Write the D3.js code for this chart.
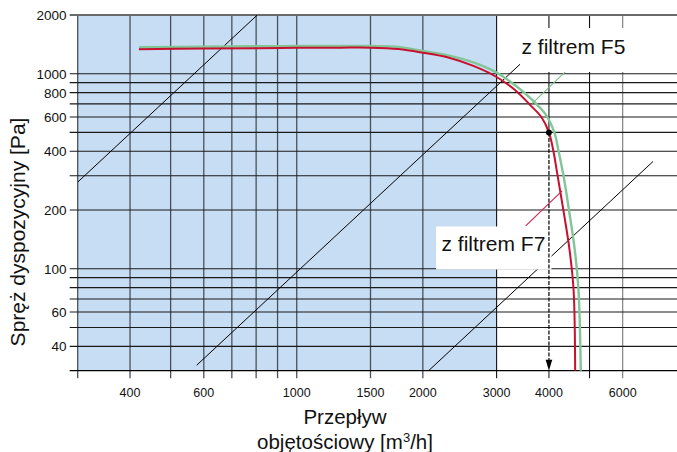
<!DOCTYPE html>
<html><head><meta charset="utf-8">
<script src="https://cdn.jsdelivr.net/npm/d3@7"></script>
<style>
body{margin:0;background:#fff}
svg{display:block}
text{font-family:"Liberation Sans",Arial,Helvetica,sans-serif;fill:#111}
</style>
</head><body>
<svg id="c" width="677" height="452"></svg>
<script>
// ---- data ----
const xTickLabels = [400, 600, 1000, 1500, 2000, 3000, 4000, 6000];
const xGridValues = [300, 400, 500, 600, 700, 800, 900, 1000, 1500, 2000, 3000, 4000, 5000, 6000];
const yTickLabels = [2000, 1000, 800, 600, 400, 200, 100, 60, 40];
const yGridValues = [1000, 900, 800, 700, 600, 500, 400, 300, 200, 100, 90, 80, 70, 60, 50, 40];

const f7Flow  = [420, 600, 800, 1000, 1270, 1500, 1750, 2000, 2300, 2640, 3000, 3340, 3610, 3840, 4000, 4100, 4195, 4330, 4480, 4580, 4620];
const f7Press = [1335, 1345, 1352, 1357, 1360, 1360, 1338, 1282, 1211, 1096, 962, 816, 690, 598, 500, 400, 300, 200, 125, 78, 30];

const f5Flow  = [420, 600, 800, 1000, 1270, 1500, 1750, 2000, 2300, 2640, 3000, 3340, 3670, 3920, 4120, 4220, 4350, 4465, 4610, 4705, 4765];
const f5Press = [1366, 1376, 1382, 1386, 1388, 1386, 1372, 1308, 1241, 1142, 1013, 865, 725, 622, 500, 398, 286, 200, 125, 78, 30];

// system (installation) lines: start and end point [flow, pressure]
const systemFlowStart  = [300, 577, 2065];
const systemPressStart = [278, 32, 30];
const systemFlowEnd    = [805, 3415, 7090];
const systemPressEnd   = [2000, 1120, 355];

const workFlow = 4000, workPress = 500;
const shadedFrom = 300, shadedTo = 3000;
const labelF5 = "z filtrem F5";
const labelF7 = "z filtrem F7";
const f5LeaderFlow = [3650, 4375], f5LeaderPress = [705, 1021];
const f7LeaderFlow = [4300, 3520], f7LeaderPress = [251, 166];

// ---- chart ----
const svg = d3.select("#c");
const pLeft = 77.7, pRight = 677.3, pTop = 15, pBottom = 370.7;
const x = d3.scaleLog().domain([300, 8100]).range([pLeft, pRight]);
const y = d3.scaleLog().domain([30, 2000]).range([pBottom, pTop]);

// shaded region
svg.append("rect")
  .attr("x", x(shadedFrom)).attr("y", pTop)
  .attr("width", x(shadedTo) - x(shadedFrom)).attr("height", pBottom - pTop)
  .attr("fill", "#c7ddf4");

// vertical grid lines
svg.append("g").selectAll("line").data(xGridValues).join("line")
  .attr("x1", d => x(d)).attr("x2", d => x(d))
  .attr("y1", pTop).attr("y2", d => d === workFlow ? y(workPress) : pBottom + 7.5)
  .attr("stroke", d => d < shadedTo ? "#48525e" : (d === 6000 ? "#777" : "#111"))
  .attr("stroke-width", d => d < shadedTo ? 1.3 : 1.1);
svg.append("line").attr("x1", x(workFlow)).attr("x2", x(workFlow))
  .attr("y1", pBottom).attr("y2", pBottom + 7.5).attr("stroke", "#111");

// horizontal grid lines
svg.append("g").selectAll("line").data(yGridValues).join("line")
  .attr("x1", pLeft - 8).attr("x2", pRight)
  .attr("y1", d => y(d)).attr("y2", d => y(d))
  .attr("stroke", "#1a1a1a").attr("stroke-width", 1.1);
svg.append("line").attr("x1", pLeft - 8).attr("x2", pRight)
  .attr("y1", y(2000)).attr("y2", y(2000))
  .attr("stroke", "#6a6a6a").attr("stroke-width", 2);
svg.append("line").attr("x1", pLeft - 8).attr("x2", pRight)
  .attr("y1", y(30)).attr("y2", y(30))
  .attr("stroke", "#000").attr("stroke-width", 1.3);

// system lines
svg.append("clipPath").attr("id", "plotclip").append("rect")
  .attr("x", pLeft).attr("y", pTop).attr("width", pRight - pLeft).attr("height", pBottom - pTop);
svg.append("g").attr("clip-path", "url(#plotclip)").selectAll("line")
  .data(d3.range(systemFlowStart.length)).join("line")
  .attr("x1", i => x(systemFlowStart[i])).attr("y1", i => y(systemPressStart[i]))
  .attr("x2", i => x(systemFlowEnd[i])).attr("y2", i => y(systemPressEnd[i]))
  .attr("stroke", "#000").attr("stroke-width", 1);

// fan curves
const line = d3.line().curve(d3.curveCatmullRom.alpha(0.5));
const f5Pts = f5Flow.map((q, i) => [x(q), y(f5Press[i])]);
const f7Pts = f7Flow.map((q, i) => [x(q), y(f7Press[i])]);
svg.append("path").attr("d", line(f5Pts)).attr("fill", "none")
  .attr("stroke", "#82c596").attr("stroke-width", 2.4);
svg.append("path").attr("d", line(f7Pts)).attr("fill", "none")
  .attr("stroke", "#c8102e").attr("stroke-width", 2);

// leaders
svg.append("line")
  .attr("x1", x(f5LeaderFlow[0])).attr("y1", y(f5LeaderPress[0]))
  .attr("x2", x(f5LeaderFlow[1])).attr("y2", y(f5LeaderPress[1]))
  .attr("stroke", "#7cc08c").attr("stroke-width", 1.1);
svg.append("line")
  .attr("x1", x(f7LeaderFlow[0])).attr("y1", y(f7LeaderPress[0]))
  .attr("x2", x(f7LeaderFlow[1])).attr("y2", y(f7LeaderPress[1]))
  .attr("stroke", "#d0224c").attr("stroke-width", 1.1);

// label boxes
svg.append("rect").attr("x", 520).attr("y", 28).attr("width", 160).attr("height", 44).attr("fill", "#fff");
svg.append("rect").attr("x", 436).attr("y", 226.5).attr("width", 115.5).attr("height", 43).attr("fill", "#fff");
svg.append("text").attr("x", 521.5).attr("y", 53.5).attr("font-size", 21).text(labelF5);
svg.append("text").attr("x", 441.5).attr("y", 251).attr("font-size", 21).text(labelF7);

// operating point + dashed arrow
svg.append("line").attr("x1", x(workFlow)).attr("x2", x(workFlow))
  .attr("y1", y(workPress)).attr("y2", pBottom - 9)
  .attr("stroke", "#000").attr("stroke-width", 1.2).attr("stroke-dasharray", "4,1.5");
svg.append("path")
  .attr("d", `M${x(workFlow) - 3.3},${pBottom - 11} L${x(workFlow) + 3.3},${pBottom - 11} L${x(workFlow)},${pBottom} Z`)
  .attr("fill", "#000");
svg.append("circle").attr("cx", x(workFlow)).attr("cy", y(workPress)).attr("r", 3).attr("fill", "#000");

// tick labels
svg.append("g").selectAll("text").data(xTickLabels).join("text")
  .attr("x", d => x(d)).attr("y", 396.5).attr("text-anchor", "middle")
  .attr("font-size", 12.5).text(d => d);
svg.append("g").selectAll("text").data(yTickLabels).join("text")
  .attr("x", 66.5).attr("y", d => y(d) + 5).attr("text-anchor", "end")
  .attr("font-size", 13.5).text(d => d);

// axis titles
svg.append("text").attr("transform", "translate(25,232) rotate(-90)")
  .attr("text-anchor", "middle").attr("font-size", 21).text("Spręż dyspozycyjny [Pa]");
svg.append("text").attr("x", 345).attr("y", 424).attr("text-anchor", "middle")
  .attr("font-size", 20.5).text("Przepływ");
const t2 = svg.append("text").attr("x", 345).attr("y", 448.5).attr("text-anchor", "middle").attr("font-size", 20.5);
t2.append("tspan").text("objętościowy [m");
t2.append("tspan").attr("font-size", 13).attr("dy", -7).text("3");
t2.append("tspan").attr("dy", 7).text("/h]");
</script>
</body></html>
